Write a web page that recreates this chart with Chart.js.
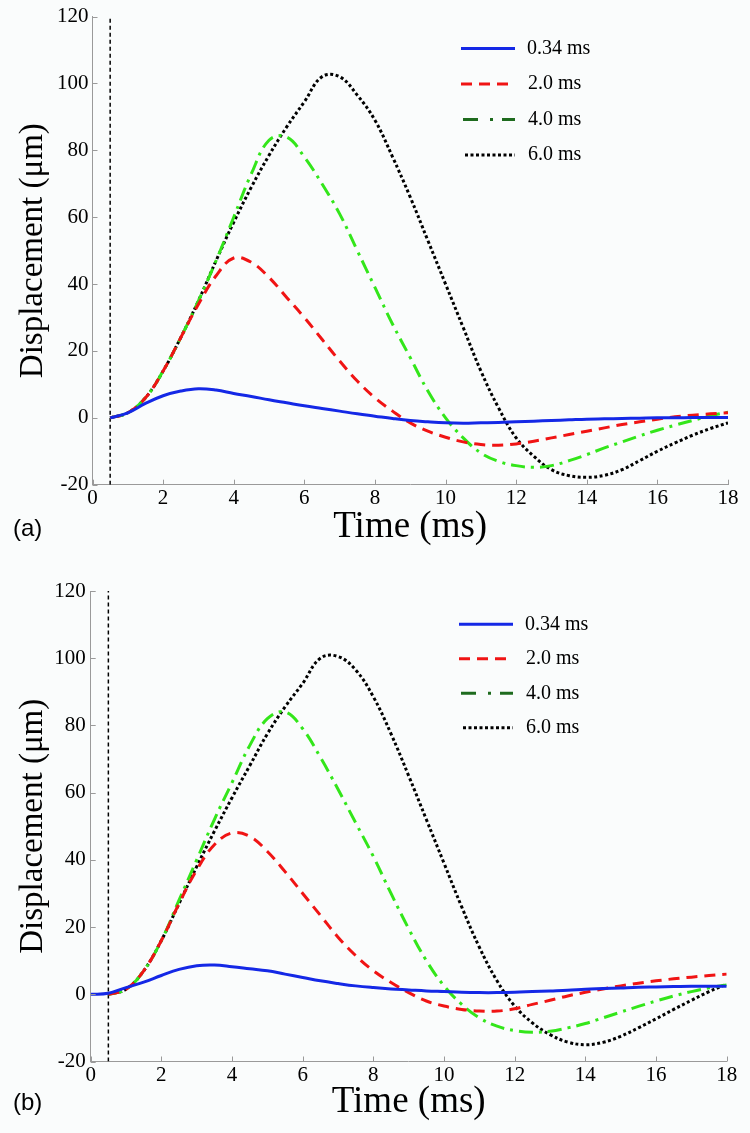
<!DOCTYPE html>
<html><head><meta charset="utf-8">
<script src="https://cdn.jsdelivr.net/npm/chart.js@4.4.1/dist/chart.umd.min.js"></script>
<style>
html,body{margin:0;padding:0;background:#fafcfc;}
body{width:750px;height:1133px;position:relative;overflow:hidden;}
.panel{position:absolute;left:0;width:750px;}
#wa{top:0;height:560px;}
#wb{top:560px;height:573px;}
.lab{position:absolute;left:13px;font-family:"Liberation Sans",Arial,sans-serif;font-size:24px;line-height:24px;color:#000;}
</style></head>
<body>
<div class="panel" id="wa"><canvas id="ca"></canvas></div>
<div class="panel" id="wb"><canvas id="cb"></canvas></div>
<div class="lab" style="top:516px">(a)</div>
<div class="lab" style="top:1090px">(b)</div>
<script>
// ---------- data ----------
const seriesLabels = ["0.34 ms", "2.0 ms", "4.0 ms", "6.0 ms"];
const xTicks = [0, 2, 4, 6, 8, 10, 12, 14, 16, 18];
const yTicks = [-20, 0, 20, 40, 60, 80, 100, 120];
const pulseStart = 0.5;

const timeA = [0.5,1,1.5,2,2.5,3,3.5,4,4.5,5,5.5,6,6.5,7,7.5,8,8.5,9,9.5,10,10.5,11,11.5,12,12.5,13,13.5,14,14.5,15,15.5,16,16.5,17,17.5,18];
const blueA  = [0,1.5,4.3,6.6,8.0,8.7,8.3,7.3,6.4,5.4,4.5,3.6,2.8,2.0,1.2,0.5,-0.2,-0.8,-1.2,-1.5,-1.6,-1.5,-1.4,-1.2,-1.0,-0.8,-0.6,-0.4,-0.3,-0.2,-0.1,0,0,0.1,0.1,0.1];
const redA   = [0,1.5,6,14,24,34,42.5,47.8,46.5,42,36,30,23.5,17,11,6,2,-1.5,-4,-5.8,-7.2,-8,-8.2,-7.8,-7,-6,-5,-4,-3,-2,-1.2,-0.4,0.3,0.8,1.2,1.5];
const greenA = [0,1.5,6,14,24,35,47,60,73,83,84,78,70,61,50,39,28,18,8,0,-6,-10.5,-13,-14.3,-14.8,-14.3,-12.8,-11,-9,-7.2,-5.4,-3.7,-2.2,-0.8,0.6,1.7];
const blackA = [0,1.5,6,14,24,35,47,58.5,69,78.5,87,94.5,102,102,96.5,89,78,66,53,40,27,14,3,-6,-11.5,-15.5,-17.3,-17.8,-17.2,-15.5,-12.8,-10,-7.5,-5.2,-3.2,-1.5];

const timeB = [0,0.5,1,1.5,2,2.5,3,3.5,4,4.5,5,5.5,6,6.5,7,7.5,8,8.5,9,9.5,10,10.5,11,11.5,12,12.5,13,13.5,14,14.5,15,15.5,16,16.5,17,17.5,18];
const blueB  = [0,0.3,2,3.6,5.6,7.4,8.5,8.7,8.2,7.6,7,6,5,4,3.2,2.5,2,1.6,1.3,1,0.8,0.6,0.5,0.5,0.6,0.8,1,1.2,1.5,1.7,1.9,2.1,2.2,2.3,2.4,2.4,2.4];
const redB   = [null,0,1.5,7,16,27,37,44.5,48,47,42.5,36.5,30,23.5,17,11.5,7,3.5,0.5,-2,-3.5,-4.5,-5,-5,-4.3,-3,-1.8,-0.5,0.6,1.6,2.5,3.3,4,4.6,5.1,5.6,6];
const greenB = [null,0,1.5,7,16,28,40,52,63,74,82,84,79,70.5,61,51,41,30,19.5,10,2.5,-3,-7,-9.5,-10.8,-11.3,-11,-10,-8.7,-7,-5.3,-3.6,-2,-0.5,0.8,1.9,2.8];
const blackB = [null,0,1.5,7,16,27,38,48.5,58.5,68,77.5,85.5,92.5,100,100.5,96.5,88.5,77.5,65,52,39,26,14,4,-3.5,-8.5,-12,-14.2,-15,-14.3,-12.5,-10,-7.3,-4.5,-1.8,0.8,3];

// ---------- styles ----------
const styles = [
  {color:'#1428e6', legendColor:'#1428e6', dash:[], legendDash:[], width:3},
  {color:'#f01414', legendColor:'#f01414', dash:[11,7], legendDash:[11,7], width:3},
  {color:'#33e61a', legendColor:'#1e6b1e', dash:[14,6,3,6], legendDash:[15,12,3,9], width:3},
  {color:'#000000', legendColor:'#000000', dash:[3,2.5], legendDash:[3,2.5], width:3}
];
const AXIS = '#9a9a9a';
const SERIF = '"Liberation Serif","Times New Roman",serif';

const inwardTicks = {
  id:'inwardTicks',
  afterDraw(chart){
    const ctx = chart.ctx, xs = chart.scales.x, ys = chart.scales.y, ca = chart.chartArea;
    ctx.save();
    ctx.strokeStyle = AXIS; ctx.lineWidth = 1; ctx.setLineDash([]);
    ctx.beginPath();
    xTicks.forEach(v => { const px = Math.round(xs.getPixelForValue(v)) + 0.5; ctx.moveTo(px, ca.bottom); ctx.lineTo(px, ca.bottom - 5); });
    yTicks.forEach(v => { const py = Math.round(ys.getPixelForValue(v)) + 0.5; ctx.moveTo(ca.left, py); ctx.lineTo(ca.left + 5, py); });
    ctx.stroke();
    ctx.restore();
  }
};

const inlineLegend = {
  id:'inlineLegend',
  afterDraw(chart, args, opts){
    const ctx = chart.ctx;
    ctx.save();
    seriesLabels.forEach((lab, i) => {
      const st = styles[i];
      const y = opts.y0 + i * opts.dy;
      const x0 = opts.x + (i === 3 ? 4 : (i === 2 ? 2 : 0));
      ctx.strokeStyle = st.legendColor;
      ctx.lineWidth = 3;
      ctx.setLineDash(st.legendDash);
      ctx.beginPath();
      ctx.moveTo(x0, y); ctx.lineTo(opts.x + 54, y);
      ctx.stroke();
      ctx.setLineDash([]);
      ctx.fillStyle = '#000';
      ctx.font = '20px ' + SERIF;
      ctx.textBaseline = 'middle';
      ctx.textAlign = 'left';
      ctx.fillText(lab, opts.x + 66 + (i === 0 ? 0 : 1), y);
    });
    ctx.restore();
  }
};

function makeChart(id, times, seriesList, g){
  const datasets = seriesList.map((vals, i) => ({
    label: seriesLabels[i],
    data: times.map((t, k) => ({x: t, y: vals[k]})),
    borderColor: styles[i].color,
    borderDash: styles[i].dash,
    borderWidth: styles[i].width,
    pointRadius: 0,
    tension: 0.4,
    fill: false,
    spanGaps: false
  }));
  datasets.push({
    label: 'pulse',
    data: [{x: pulseStart, y: yTicks[0]}, {x: pulseStart, y: yTicks[yTicks.length-1]}],
    borderColor: '#000', borderWidth: 1.5, borderDash: [4,3], pointRadius: 0, tension: 0
  });
  return new Chart(document.getElementById(id), {
    type: 'line',
    data: { datasets },
    plugins: [inwardTicks, inlineLegend],
    options: {
      responsive: true, maintainAspectRatio: false, animation: false,
      layout: { padding: { left: 0, right: g.right, top: g.top, bottom: 0 } },
      plugins: {
        legend: { display: false }, tooltip: { enabled: false },
        inlineLegend: { x: g.legX, y0: g.legY0, dy: g.legDy }
      },
      scales: {
        x: {
          type: 'linear', min: xTicks[0], max: xTicks[xTicks.length-1],
          afterBuildTicks: s => { s.ticks = xTicks.map(v => ({value: v})); },
          afterFit: s => { s.height = g.xh; },
          grid: { display: false, drawTicks: false },
          border: { display: true, color: AXIS, width: 1 },
          ticks: { color: '#000', font: { family: SERIF, size: 21 }, padding: 1, maxRotation: 0, autoSkip: false },
          title: { display: true, text: 'Time (ms)', color: '#000', font: { family: SERIF, size: 37 }, padding: { top: 0, bottom: g.titlePadB } }
        },
        y: {
          type: 'linear', min: yTicks[0], max: yTicks[yTicks.length-1],
          afterBuildTicks: s => { s.ticks = yTicks.map(v => ({value: v})); },
          afterFit: s => { s.width = g.yw; },
          grid: { display: false, drawTicks: false },
          border: { display: true, color: AXIS, width: 1 },
          ticks: { color: '#000', font: { family: SERIF, size: 21 }, padding: g.yPad, autoSkip: false },
          title: { display: true, text: 'Displacement (μm)', color: '#000', font: { family: SERIF, size: 33 }, padding: { top: 14, bottom: 0 } }
        }
      }
    }
  });
}

makeChart('ca', timeA, [blueA, redA, greenA, blackA],
  { right: 22, top: 15, xh: 75.3, yw: 92.5, yPad: 4, titlePadB: 11, legX: 461, legY0: 48.5, legDy: 35.5 });
makeChart('cb', timeB, [blueB, redB, greenB, blackB],
  { right: 23.3, top: 31, xh: 71.5, yw: 90.7, yPad: 5, titlePadB: 9, legX: 459, legY0: 64.3, legDy: 34.5 });
</script>
</body></html>
